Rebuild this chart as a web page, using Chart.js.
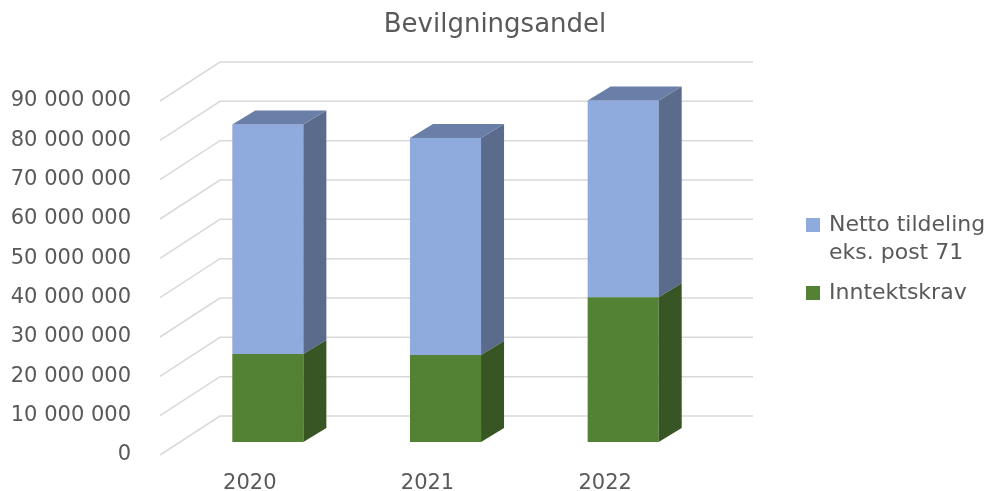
<!DOCTYPE html>
<html>
<head>
<meta charset="utf-8">
<script src="https://cdn.jsdelivr.net/npm/chart.js@4/dist/chart.umd.min.js"></script>
<style>
  html, body { margin: 0; padding: 0; background: #ffffff; }
  #wrap { width: 990px; height: 491px; position: relative; }
</style>
</head>
<body>
<div id="wrap"><canvas id="c" width="990" height="491"></canvas></div>
<script>
const categories = ['2020', '2021', '2022'];
const inntektskrav = [22400000, 22100000, 36800000];
const nettoTildeling = [58300000, 55200000, 50000000];
const yTickLabels = ['0', '10 000 000', '20 000 000', '30 000 000', '40 000 000',
  '50 000 000', '60 000 000', '70 000 000', '80 000 000', '90 000 000'];
const titleText = 'Bevilgningsandel';
const nettoLabel = ['Netto tildeling', 'eks. post 71'];
const inntektLabel = ['Inntektskrav'];

const TEXT = '#595959';
const FONT = 'DejaVu Sans';
const FRONT = { dx: -19, dy: 13 };
const BACK = { dx: 41, dy: -26 };
const DEPTH = { dx: 23, dy: -14 };

const threeD = {
  id: 'threeD',
  beforeDatasetsDraw(chart) {
    const { ctx, chartArea: a, scales: { y } } = chart;
    ctx.save();
    ctx.strokeStyle = '#D9D9D9';
    ctx.lineWidth = 1.5;
    y.ticks.forEach(t => {
      const py = y.getPixelForValue(t.value);
      ctx.beginPath();
      ctx.moveTo(a.left + FRONT.dx, py + FRONT.dy);
      ctx.lineTo(a.left + BACK.dx, py + BACK.dy);
      ctx.lineTo(a.right + BACK.dx, py + BACK.dy);
      ctx.stroke();
    });
    ctx.restore();
  },
  afterDatasetDraw(chart, args) {
    const { ctx } = chart;
    const ds = chart.data.datasets[args.index];
    ctx.save();
    args.meta.data.forEach((bar, i) => {
      const { x, y, base, width } = bar.getProps(['x', 'y', 'base', 'width'], true);
      const L = x - width / 2, R = x + width / 2;
      ctx.fillStyle = ds.sideColor;
      ctx.beginPath();
      ctx.moveTo(R, y);
      ctx.lineTo(R + DEPTH.dx, y + DEPTH.dy);
      ctx.lineTo(R + DEPTH.dx, base + DEPTH.dy);
      ctx.lineTo(R, base);
      ctx.closePath();
      ctx.fill();
      const isTop = chart.data.datasets.every((d, j) => j <= args.index || !d.data[i]);
      if (isTop) {
        ctx.fillStyle = ds.topColor;
        ctx.beginPath();
        ctx.moveTo(L, y);
        ctx.lineTo(L + DEPTH.dx, y + DEPTH.dy);
        ctx.lineTo(R + DEPTH.dx, y + DEPTH.dy);
        ctx.lineTo(R, y);
        ctx.closePath();
        ctx.fill();
      }
    });
    ctx.restore();
  },
  afterDraw(chart) {
    const { ctx, chartArea: a } = chart;
    ctx.save();
    ctx.font = '22px "' + FONT + '"';
    ctx.textBaseline = 'middle';
    ctx.textAlign = 'left';
    const sx = a.right + 94, tx = a.right + 117;
    const items = [
      { ds: chart.data.datasets[1], y: a.top + 137 },
      { ds: chart.data.datasets[0], y: a.top + 205 }
    ];
    items.forEach(it => {
      ctx.fillStyle = it.ds.backgroundColor;
      ctx.fillRect(sx, it.y - 7, 14, 14);
      ctx.fillStyle = TEXT;
      it.ds.legendText.forEach((line, k) => ctx.fillText(line, tx, it.y + k * 28));
    });
    ctx.restore();
  }
};

new Chart(document.getElementById('c'), {
  type: 'bar',
  data: {
    labels: categories,
    datasets: [
      { label: inntektLabel.join(' '), legendText: inntektLabel, data: inntektskrav,
        backgroundColor: '#548235', sideColor: '#375623', topColor: '#476f2c' },
      { label: nettoLabel.join(' '), legendText: nettoLabel, data: nettoTildeling,
        backgroundColor: '#8FAADC', sideColor: '#5B6B8C', topColor: '#6A7FA8' }
    ]
  },
  options: {
    responsive: false,
    animation: false,
    layout: { padding: 0 },
    datasets: { bar: { barPercentage: 0.4, categoryPercentage: 1, borderWidth: 0 } },
    plugins: {
      legend: { display: false },
      tooltip: { enabled: false },
      title: {
        display: true, text: titleText, color: TEXT,
        font: { family: FONT, size: 26, weight: 'normal', lineHeight: 1.2 },
        padding: { top: 10, bottom: 46.8 }
      }
    },
    scales: {
      x: {
        stacked: true,
        grid: { display: false, drawTicks: false },
        border: { display: false },
        ticks: { color: TEXT, font: { family: FONT, size: 21 }, padding: 29, labelOffset: -18 },
        afterFit(s) { s.height = 49; s.paddingLeft = 0; s.paddingRight = 0; }
      },
      y: {
        stacked: true, min: 0, max: 90000000,
        grid: { display: false, drawTicks: false },
        border: { display: false },
        ticks: {
          stepSize: 10000000, color: TEXT, font: { family: FONT, size: 21 },
          padding: 48, labelOffset: 13,
          callback: (v, i) => yTickLabels[i]
        },
        afterFit(s) { s.width = 179; s.paddingTop = 0; s.paddingBottom = 0; }
      },
      legendSpace: {
        type: 'linear', position: 'right', display: true,
        grid: { display: false, drawTicks: false },
        border: { display: false },
        ticks: { display: false },
        afterFit(s) { s.width = 278; s.paddingTop = 0; s.paddingBottom = 0; }
      }
    }
  },
  plugins: [threeD]
});
</script>
</body>
</html>
